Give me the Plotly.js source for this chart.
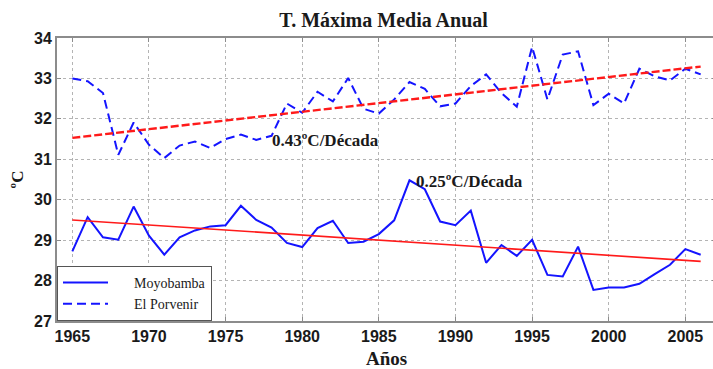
<!DOCTYPE html>
<html>
<head>
<meta charset="utf-8">
<script src="https://cdn.plot.ly/plotly-3.0.1.min.js"></script>
<style>
  html, body { margin: 0; padding: 0; background: #fff; overflow: hidden; }
  #chart { width: 717px; height: 369px; }
</style>
</head>
<body>
<div id="chart"></div>
<script>
// Annual mean maximum temperature (°C), 1965–2006
const years = [1965,1966,1967,1968,1969,1970,1971,1972,1973,1974,1975,1976,1977,1978,1979,1980,1981,1982,1983,1984,1985,
               1986,1987,1988,1989,1990,1991,1992,1993,1994,1995,1996,1997,1998,1999,2000,2001,2002,2003,2004,2005,2006];

const moyobamba = [28.72,29.57,29.07,29.01,29.83,29.11,28.64,29.07,29.24,29.34,29.37,29.85,29.50,29.31,28.93,28.83,29.30,29.48,28.93,28.96,29.15,
                   29.49,30.48,30.26,29.46,29.37,29.73,28.44,28.88,28.61,29.01,28.14,28.10,28.84,27.77,27.83,27.83,27.92,28.16,28.39,28.78,28.64];

const elPorvenir = [33.00,32.93,32.64,31.11,31.91,31.36,31.03,31.34,31.44,31.28,31.50,31.61,31.48,31.58,32.38,32.15,32.67,32.43,33.01,32.25,32.13,
                    32.48,32.91,32.74,32.31,32.38,32.81,33.10,32.64,32.30,33.78,32.48,33.59,33.67,32.34,32.62,32.38,33.24,33.05,32.95,33.24,33.10];

// Linear trends: value in the first year and rate per decade
const trendStart = { moyobamba: 29.50, elPorvenir: 31.53 };
const trendRate  = { moyobamba: -0.25, elPorvenir: 0.43 };   // °C per decade
const trendLabels = ['0.43ºC/Década', '0.25ºC/Década'];

const trendYears = [years[0], years[years.length - 1]];
function trend(start, rate) {
  return trendYears.map(y => start + rate * (y - trendYears[0]) / 10);
}

const blue = '#1414ff';
const red = '#ff1a1a';

// legend labels sit a little further from their line samples
const pad = '\u00a0\u00a0\u00a0\u00a0\u00a0\u00a0';

const traces = [
  { x: years, y: moyobamba, name: pad + 'Moyobamba', mode: 'lines',
    line: { color: blue, width: 2 } },
  { x: years, y: elPorvenir, name: pad + 'El Porvenir', mode: 'lines',
    line: { color: blue, width: 2, dash: '9px,5px' } },
  { x: trendYears, y: trend(trendStart.moyobamba, trendRate.moyobamba), mode: 'lines',
    showlegend: false, hoverinfo: 'skip', line: { color: red, width: 1.6 } },
  { x: trendYears, y: trend(trendStart.elPorvenir, trendRate.elPorvenir), mode: 'lines',
    showlegend: false, hoverinfo: 'skip', line: { color: red, width: 2.4, dash: '8px,3px' } }
];

const tickFont = { family: 'Liberation Sans, Arial, sans-serif', size: 16, color: '#1a1a1a', weight: 'bold' };
const serifBold = { family: 'Liberation Serif, Times New Roman, serif', color: '#1a1a1a', weight: 'bold' };

const axisCommon = {
  showline: true, linecolor: '#8c8c8c', linewidth: 2, mirror: 'ticks',
  ticks: 'inside', ticklen: 4, tickcolor: '#8c8c8c', tickwidth: 1,
  showgrid: true, gridcolor: '#b4b4b4', gridwidth: 1, griddash: 'dot',
  zeroline: false, tickfont: tickFont
};

const layout = {
  width: 717, height: 369,
  margin: { l: 57, r: 1, t: 38, b: 48 },
  paper_bgcolor: '#fff', plot_bgcolor: '#fff',
  title: { text: 'T. Máxima Media Anual', x: 0.535, xanchor: 'center', y: 0.945, yanchor: 'middle',
           font: Object.assign({ size: 20 }, serifBold) },
  xaxis: Object.assign({}, axisCommon, {
    range: [1964, 2007], tickmode: 'array',
    tickvals: [1965,1970,1975,1980,1985,1990,1995,2000,2005],
    title: { text: 'Años', font: Object.assign({ size: 19 }, serifBold), standoff: 7 }
  }),
  yaxis: Object.assign({}, axisCommon, {
    range: [27, 34], dtick: 1,
    title: { text: 'ºC', font: Object.assign({ size: 17 }, serifBold), standoff: 6 }
  }),
  showlegend: true,
  legend: {
    x: 0, y: 0, xanchor: 'left', yanchor: 'bottom',
    bgcolor: '#fff', bordercolor: '#555', borderwidth: 1,
    font: { family: 'Liberation Serif, Times New Roman, serif', size: 14, color: '#1a1a1a' },
    itemwidth: 45, entrywidth: 185, tracegroupgap: 0
  },
  annotations: [
    { x: 1977.9, y: 31.46, xref: 'x', yref: 'y', text: trendLabels[0], showarrow: false,
      xanchor: 'left', yanchor: 'middle', font: Object.assign({ size: 17 }, serifBold) },
    { x: 1987.3, y: 30.45, xref: 'x', yref: 'y', text: trendLabels[1], showarrow: false,
      xanchor: 'left', yanchor: 'middle', font: Object.assign({ size: 17 }, serifBold) }
  ]
};

Plotly.newPlot('chart', traces, layout, { displayModeBar: false, staticPlot: true });
</script>
</body>
</html>
